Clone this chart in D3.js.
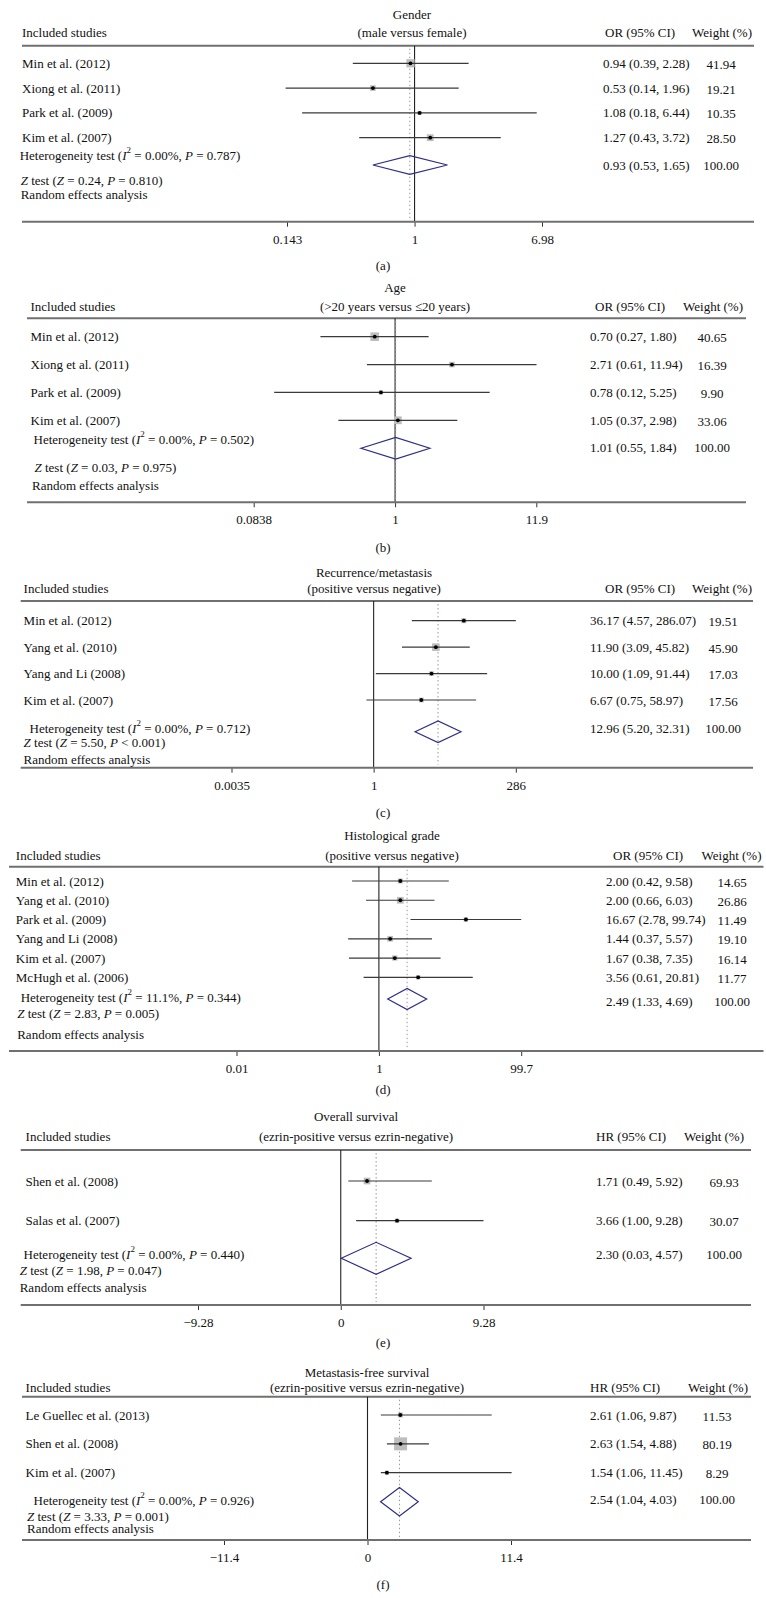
<!DOCTYPE html>
<html>
<head>
<meta charset="utf-8">
<script src="https://cdn.jsdelivr.net/npm/d3@7"></script>
<style>
  html, body { margin: 0; padding: 0; background: #fff; }
  svg { display: block; }
</style>
</head>
<body>
<svg id="chart" width="766" height="1598"></svg>
<script>
// ---------------- DATA ----------------
// (a) Gender
const aStudies = ["Min et al. (2012)", "Xiong et al. (2011)", "Park et al. (2009)", "Kim et al. (2007)"];
const aEst = [0.94, 0.53, 1.08, 1.27];
const aLo  = [0.39, 0.14, 0.18, 0.43];
const aHi  = [2.28, 1.96, 6.44, 3.72];
const aWt  = [41.94, 19.21, 10.35, 28.50];
const aPooled = [0.93, 0.53, 1.65];
const aTicks = [0.143, 1, 6.98];
const aTickLabels = ["0.143", "1", "6.98"];
const aStats = { i2: "0.00%", p: "0.787", z: "0.24", zp: "= 0.810" };

// (b) Age
const bStudies = ["Min et al. (2012)", "Xiong et al. (2011)", "Park et al. (2009)", "Kim et al. (2007)"];
const bEst = [0.70, 2.71, 0.78, 1.05];
const bLo  = [0.27, 0.61, 0.12, 0.37];
const bHi  = [1.80, 11.94, 5.25, 2.98];
const bWt  = [40.65, 16.39, 9.90, 33.06];
const bPooled = [1.01, 0.55, 1.84];
const bTicks = [0.0838, 1, 11.9];
const bTickLabels = ["0.0838", "1", "11.9"];
const bStats = { i2: "0.00%", p: "0.502", z: "0.03", zp: "= 0.975" };

// (c) Recurrence/metastasis
const cStudies = ["Min et al. (2012)", "Yang et al. (2010)", "Yang and Li (2008)", "Kim et al. (2007)"];
const cEst = [36.17, 11.90, 10.00, 6.67];
const cLo  = [4.57, 3.09, 1.09, 0.75];
const cHi  = [286.07, 45.82, 91.44, 58.97];
const cWt  = [19.51, 45.90, 17.03, 17.56];
const cPooled = [12.96, 5.20, 32.31];
const cTicks = [0.0035, 1, 286];
const cTickLabels = ["0.0035", "1", "286"];
const cStats = { i2: "0.00%", p: "0.712", z: "5.50", zp: "< 0.001" };

// (d) Histological grade
const dStudies = ["Min et al. (2012)", "Yang et al. (2010)", "Park et al. (2009)", "Yang and Li (2008)", "Kim et al. (2007)", "McHugh et al. (2006)"];
const dEst = [2.00, 2.00, 16.67, 1.44, 1.67, 3.56];
const dLo  = [0.42, 0.66, 2.78, 0.37, 0.38, 0.61];
const dHi  = [9.58, 6.03, 99.74, 5.57, 7.35, 20.81];
const dWt  = [14.65, 26.86, 11.49, 19.10, 16.14, 11.77];
const dPooled = [2.49, 1.33, 4.69];
const dTicks = [0.01, 1, 99.7];
const dTickLabels = ["0.01", "1", "99.7"];
const dStats = { i2: "11.1%", p: "0.344", z: "2.83", zp: "= 0.005" };

// (e) Overall survival
const eStudies = ["Shen et al. (2008)", "Salas et al. (2007)"];
const eEst = [1.71, 3.66];
const eLo  = [0.49, 1.00];
const eHi  = [5.92, 9.28];
const eWt  = [69.93, 30.07];
const ePooled = [2.30, 0.03, 4.57];
const eTicks = [-9.28, 0, 9.28];
const eTickLabels = ["\u22129.28", "0", "9.28"];
const eStats = { i2: "0.00%", p: "0.440", z: "1.98", zp: "= 0.047" };

// (f) Metastasis-free survival
const fStudies = ["Le Guellec et al. (2013)", "Shen et al. (2008)", "Kim et al. (2007)"];
const fEst = [2.61, 2.63, 1.54];
const fLo  = [1.06, 1.54, 1.06];
const fHi  = [9.87, 4.88, 11.45];
const fWt  = [11.53, 80.19, 8.29];
const fPooled = [2.54, 1.04, 4.03];
const fTicks = [-11.4, 0, 11.4];
const fTickLabels = ["\u221211.4", "0", "11.4"];
const fStats = { i2: "0.00%", p: "0.926", z: "3.33", zp: "= 0.001" };

// ---------------- LAYOUT ----------------
const FONT = "'Liberation Serif', 'Times New Roman', serif";
const FS = 13;
const svg = d3.select("#chart");

const panels = [
  { label: "(a)", t1: "Gender", t2: "(male versus female)", measure: "OR",
    studies: aStudies, est: aEst, lo: aLo, hi: aHi, wt: aWt, pooled: aPooled, stats: aStats,
    ticks: aTicks, tickLabels: aTickLabels, log: true, range: [287, 542],
    titleX: 412, t1Y: 14, t2Y: 32.7, headerY: 45.7, axisY: 221.7, rows: [63.3, 137.7],
    hetY: 155, diaY: 165, diaH: 9.3, pooledY: 165.7, zY: 180, randY: 194.3, labelY: 265,
    nameX: 22, hetX: 19.7, zX: 20.7, randX: 20.7, valX: 603, wX: 721, valHeadX: 605, wHeadX: 722,
    lineX: [22, 754], boxK: 1.27, dotColor: "#9a9a9a" },
  { label: "(b)", t1: "Age", t2: "(>20 years versus \u226420 years)", measure: "OR",
    studies: bStudies, est: bEst, lo: bLo, hi: bHi, wt: bWt, pooled: bPooled, stats: bStats,
    ticks: bTicks, tickLabels: bTickLabels, log: true, range: [253.7, 536.3],
    titleX: 395, t1Y: 287.7, t2Y: 306, headerY: 318.3, axisY: 502.3, rows: [336.7, 420.3],
    hetY: 439, diaY: 448.3, diaH: 10.8, pooledY: 447.3, zY: 467.3, randY: 485.7, labelY: 547,
    nameX: 30.5, hetX: 33.5, zX: 34.5, randX: 32, valX: 590, wX: 712, valHeadX: 595, wHeadX: 713,
    lineX: [27, 746], boxK: 1.35, dotColor: "#9a9a9a" },
  { label: "(c)", t1: "Recurrence/metastasis", t2: "(positive versus negative)", measure: "OR",
    studies: cStudies, est: cEst, lo: cLo, hi: cHi, wt: cWt, pooled: cPooled, stats: cStats,
    ticks: cTicks, tickLabels: cTickLabels, log: true, range: [231.5, 515.8],
    titleX: 374, t1Y: 572.7, t2Y: 588.3, headerY: 601, axisY: 767.7, rows: [620.7, 700],
    hetY: 728.3, diaY: 731.7, diaH: 10.8, pooledY: 728.3, zY: 742, randY: 759, labelY: 812,
    nameX: 23.6, hetX: 29.6, zX: 23.6, randX: 23.6, valX: 590, wX: 723, valHeadX: 605, wHeadX: 722,
    lineX: [20.7, 753], boxK: 1.12, dotColor: "#a98f9a" },
  { label: "(d)", t1: "Histological grade", t2: "(positive versus negative)", measure: "OR",
    studies: dStudies, est: dEst, lo: dLo, hi: dHi, wt: dWt, pooled: dPooled, stats: dStats,
    ticks: dTicks, tickLabels: dTickLabels, log: true, range: [236.5, 521.2],
    titleX: 392, t1Y: 835.7, t2Y: 855, headerY: 866.7, axisY: 1051, rows: [881, 977.3],
    hetY: 997.3, diaY: 999, diaH: 10.5, pooledY: 1001.7, zY: 1013.3, randY: 1034, labelY: 1089,
    nameX: 15.8, hetX: 20.7, zX: 17.2, randX: 17.2, valX: 606, wX: 732, valHeadX: 613, wHeadX: 731.5,
    lineX: [9, 763.5], boxK: 1.3, dotColor: "#b0929e" },
  { label: "(e)", t1: "Overall survival", t2: "(ezrin-positive versus ezrin-negative)", measure: "HR",
    studies: eStudies, est: eEst, lo: eLo, hi: eHi, wt: eWt, pooled: ePooled, stats: eStats,
    ticks: eTicks, tickLabels: eTickLabels, log: false, range: [198, 483.5],
    titleX: 356, t1Y: 1116.7, t2Y: 1136.7, headerY: 1150, axisY: 1305, rows: [1181, 1220.7],
    hetY: 1254.3, diaY: 1258.3, diaH: 16, pooledY: 1254.3, zY: 1270, randY: 1287.7, labelY: 1342,
    nameX: 25.6, hetX: 23.6, zX: 19.7, randX: 19.7, valX: 596, wX: 724, valHeadX: 596, wHeadX: 714,
    lineX: [20.7, 751], boxK: 0.8, dotColor: "#b08a98" },
  { label: "(f)", t1: "Metastasis-free survival", t2: "(ezrin-positive versus ezrin-negative)", measure: "HR",
    studies: fStudies, est: fEst, lo: fLo, hi: fHi, wt: fWt, pooled: fPooled, stats: fStats,
    ticks: fTicks, tickLabels: fTickLabels, log: false, range: [224, 511],
    titleX: 367, t1Y: 1372.3, t2Y: 1387.7, headerY: 1396.7, axisY: 1540, rows: [1415, 1472.7],
    hetY: 1500, diaY: 1501.7, diaH: 14.2, pooledY: 1499.3, zY: 1516, randY: 1528.3, labelY: 1584,
    nameX: 25.6, hetX: 33.5, zX: 27, randX: 27, valX: 590, wX: 717, valHeadX: 590, wHeadX: 718,
    lineX: [22, 751], boxK: 1.45, dotColor: "#9a9a9a" }
];

function txt(g, x, y, s, anchor) {
  return g.append("text").attr("x", x).attr("y", y)
    .attr("dominant-baseline", "central")
    .attr("text-anchor", anchor || "start")
    .attr("font-family", FONT).attr("font-size", FS).attr("fill", "#111")
    .text(s);
}

function drawPanel(p) {
  const g = svg.append("g");
  const n = p.studies.length;
  const ext = [p.ticks[0], p.ticks[p.ticks.length - 1]];
  const x = p.log ? d3.scaleLog().domain(ext).range(p.range)
                  : d3.scaleLinear().domain(ext).range(p.range);
  const y = d3.scalePoint().domain(d3.range(n)).range(p.rows);
  const nullVal = p.log ? 1 : 0;

  // titles and column headers
  txt(g, p.titleX, p.t1Y, p.t1, "middle");
  txt(g, p.titleX, p.t2Y, p.t2, "middle");
  txt(g, p.nameX, p.t2Y, "Included studies");
  txt(g, p.valHeadX, p.t2Y, p.measure + " (95% CI)");
  txt(g, p.wHeadX, p.t2Y, "Weight (%)", "middle");

  // header line and axis line
  g.append("line").attr("x1", p.lineX[0]).attr("x2", p.lineX[1])
    .attr("y1", p.headerY).attr("y2", p.headerY)
    .attr("stroke", "#707070").attr("stroke-width", 2);

  // null line and pooled dotted line
  g.append("line").attr("x1", x(nullVal)).attr("x2", x(nullVal))
    .attr("y1", p.headerY).attr("y2", p.axisY)
    .attr("stroke", "#222").attr("stroke-width", 1.1);
  g.append("line").attr("x1", x(p.pooled[0])).attr("x2", x(p.pooled[0]))
    .attr("y1", p.headerY + 3).attr("y2", p.axisY - 3)
    .attr("stroke", p.dotColor).attr("stroke-width", 1)
    .attr("stroke-dasharray", "1.5,2.5");

  // axis
  const axis = d3.axisBottom(x).tickValues(p.ticks)
    .tickFormat((d, i) => p.tickLabels[i]).tickSize(5).tickSizeOuter(0);
  const ag = g.append("g").attr("transform", `translate(0,${p.axisY})`).call(axis);
  ag.select(".domain").remove();
  ag.selectAll(".tick line").attr("stroke", "#333");
  ag.selectAll(".tick text").attr("font-family", FONT).attr("font-size", FS)
    .attr("fill", "#111").attr("dy", 0).attr("y", 17.5).attr("dominant-baseline", "central");
  g.append("line").attr("x1", p.lineX[0]).attr("x2", p.lineX[1])
    .attr("y1", p.axisY).attr("y2", p.axisY)
    .attr("stroke", "#707070").attr("stroke-width", 2);

  // studies
  const rows = g.selectAll("g.row").data(d3.range(n)).enter().append("g");
  rows.append("rect")
    .attr("x", i => x(p.est[i]) - p.boxK * Math.sqrt(p.wt[i]) / 2)
    .attr("y", i => y(i) - p.boxK * Math.sqrt(p.wt[i]) / 2)
    .attr("width", i => p.boxK * Math.sqrt(p.wt[i]))
    .attr("height", i => p.boxK * Math.sqrt(p.wt[i]))
    .attr("fill", "#bdbdbd");
  rows.append("line")
    .attr("x1", i => x(p.lo[i])).attr("x2", i => x(p.hi[i]))
    .attr("y1", i => y(i)).attr("y2", i => y(i))
    .attr("stroke", "#3a3a3a").attr("stroke-width", 1.2);
  rows.append("circle")
    .attr("cx", i => x(p.est[i])).attr("cy", i => y(i)).attr("r", 1.9)
    .attr("fill", "#000");
  rows.each(function (i) {
    const r = d3.select(this);
    txt(r, p.nameX, y(i), p.studies[i]);
    txt(r, p.valX, y(i), `${p.est[i].toFixed(2)} (${p.lo[i].toFixed(2)}, ${p.hi[i].toFixed(2)})`);
    txt(r, p.wX, y(i) + 1, p.wt[i].toFixed(2), "middle");
  });

  // pooled diamond
  const dpts = [[x(p.pooled[1]), p.diaY], [x(p.pooled[0]), p.diaY - p.diaH],
                [x(p.pooled[2]), p.diaY], [x(p.pooled[0]), p.diaY + p.diaH]];
  g.append("path").attr("d", d3.line()(dpts) + "Z")
    .attr("fill", "none").attr("stroke", "#2e2f86").attr("stroke-width", 1.2);
  txt(g, p.valX, p.pooledY, `${p.pooled[0].toFixed(2)} (${p.pooled[1].toFixed(2)}, ${p.pooled[2].toFixed(2)})`);
  txt(g, p.wX, p.pooledY, d3.sum(p.wt).toFixed(2) === "100.00" ? "100.00" : "100.00", "middle");

  // heterogeneity text
  const ht = txt(g, p.hetX, p.hetY, "");
  ht.append("tspan").text("Heterogeneity test (");
  ht.append("tspan").attr("font-style", "italic").text("I");
  ht.append("tspan").attr("font-size", 9).attr("dy", -5).text("2");
  ht.append("tspan").attr("dy", 5).text(` = ${p.stats.i2}, `);
  ht.append("tspan").attr("font-style", "italic").text("P");
  ht.append("tspan").text(` = ${p.stats.p})`);

  const zt = txt(g, p.zX, p.zY, "");
  zt.append("tspan").attr("font-style", "italic").text("Z");
  zt.append("tspan").text(" test (");
  zt.append("tspan").attr("font-style", "italic").text("Z");
  zt.append("tspan").text(` = ${p.stats.z}, `);
  zt.append("tspan").attr("font-style", "italic").text("P");
  zt.append("tspan").text(` ${p.stats.zp})`);

  txt(g, p.randX, p.randY, "Random effects analysis");

  // panel label
  txt(g, 383, p.labelY, p.label, "middle");
}

panels.forEach(drawPanel);
</script>
</body>
</html>
